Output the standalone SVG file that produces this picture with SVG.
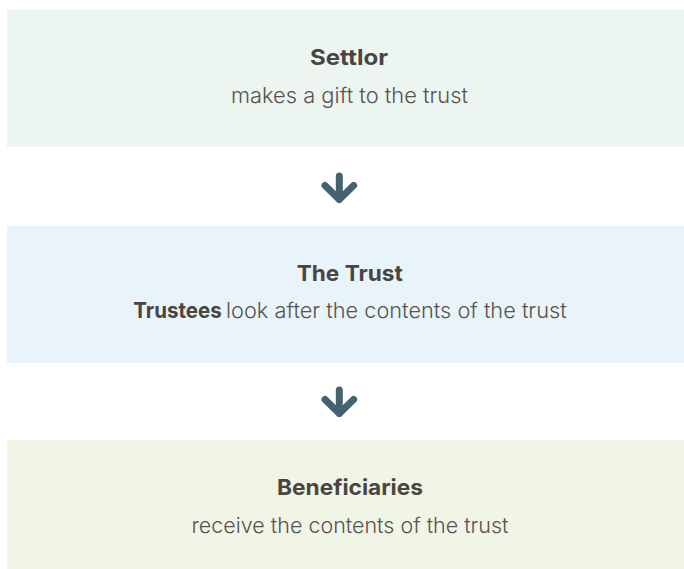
<svg xmlns="http://www.w3.org/2000/svg" width="684" height="569" viewBox="0 0 684 569">
  <style>
    .title { font-family: Inter, Lato, "Liberation Sans", sans-serif; font-weight: 700; font-size: 22px; fill: #4a4543; text-anchor: middle; }
    .sub { font-family: Inter, Lato, "Liberation Sans", sans-serif; font-weight: 300; font-size: 21.5px; fill: #57524f; text-anchor: middle; }
    .subb { font-weight: 700; fill: #4a4543; }
    .arrow { fill: none; stroke: #456270; stroke-width: 7; stroke-linecap: round; stroke-linejoin: round; }
  </style>
  <rect width="684" height="569" fill="#ffffff"/>
  <g id="settlor">
    <rect x="7" y="10" width="677" height="137" fill="#edf5f0"/>
    <text class="title" x="349" y="65" textLength="78" lengthAdjust="spacingAndGlyphs">Settlor</text>
    <text class="sub" x="349.5" y="103" textLength="237" lengthAdjust="spacingAndGlyphs">makes a gift to the trust</text>
  </g>
  <g id="trust">
    <rect x="7" y="226" width="677" height="137" fill="#e8f4f9"/>
    <text class="title" x="349.7" y="281" textLength="106" lengthAdjust="spacingAndGlyphs">The Trust</text>
    <text class="sub" y="318" style="text-anchor:start"><tspan class="subb" x="133.3" textLength="88.4" lengthAdjust="spacingAndGlyphs">Trustees</tspan><tspan x="226" textLength="340.7" lengthAdjust="spacingAndGlyphs">look after the contents of the trust</tspan></text>
  </g>
  <g id="beneficiaries">
    <rect x="7" y="440" width="677" height="129" fill="#f1f5e6"/>
    <text class="title" x="350" y="495" textLength="146" lengthAdjust="spacingAndGlyphs">Beneficiaries</text>
    <text class="sub" x="350" y="533" textLength="317" lengthAdjust="spacingAndGlyphs">receive the contents of the trust</text>
  </g>
  <g id="connectors">
    <path class="arrow" d="M339.3 176 V199.5 M325 185.5 L339.3 199.5 L353.6 185.5"/>
    <path class="arrow" d="M339.3 390 V413.5 M325 399.5 L339.3 413.5 L353.6 399.5"/>
  </g>
</svg>
